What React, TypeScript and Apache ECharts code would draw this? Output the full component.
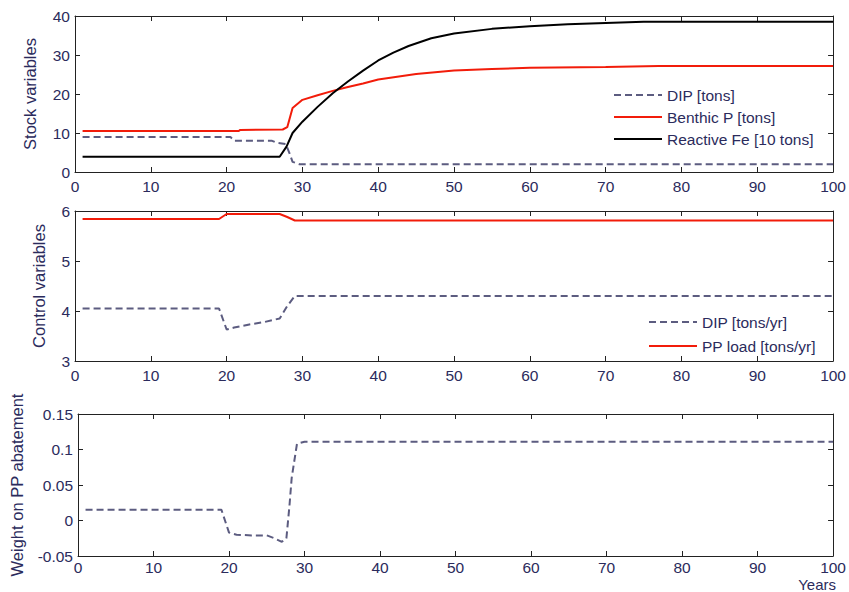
import React, { useEffect, useRef } from "react";
import * as echarts from "echarts";

// ---- Panel 1: stock variables ----
const dipStockYears = [1, 20.5, 21, 26, 26.6, 27.8, 28.3, 28.7, 29.6, 100];
const dipStock = [9.0, 9.0, 8.0, 8.0, 7.5, 7.2, 4.8, 2.6, 2.0, 2.0];
const benthicYears = [1, 21.6, 21.8, 27.4, 28.0, 28.7, 30, 32, 34, 36, 38, 40, 45, 50, 55, 60, 70, 77, 100];
const benthicP = [10.5, 10.5, 10.8, 10.9, 11.5, 16.4, 18.5, 19.7, 20.8, 21.8, 22.7, 23.7, 25.1, 26.0, 26.4, 26.7, 26.9, 27.2, 27.2];
const feYears = [1, 27, 27.9, 28.7, 30, 32, 34, 36, 38, 40, 42, 44, 47, 50, 55, 60, 65, 70, 75, 80, 100];
const reactiveFe = [3.9, 3.9, 6.5, 10.0, 12.9, 16.7, 20.2, 23.2, 26.0, 28.6, 30.6, 32.3, 34.3, 35.5, 36.7, 37.4, 37.9, 38.2, 38.5, 38.5, 38.5];

// ---- Panel 2: control variables ----
const ppYears = [1, 19, 20, 27, 28, 29, 100];
const ppLoad = [5.84, 5.84, 5.94, 5.94, 5.88, 5.81, 5.81];
const dipYrYears = [1, 19, 20, 21, 23, 25, 27, 28, 29, 100];
const dipYr = [4.05, 4.05, 3.63, 3.67, 3.73, 3.78, 3.85, 4.1, 4.3, 4.3];

// ---- Panel 3: weight on PP abatement ----
const wYears = [1, 19, 20, 21, 23, 25, 26, 27, 27.6, 28, 28.3, 29, 30, 100];
const weight = [0.015, 0.015, -0.017, -0.02, -0.021, -0.021, -0.025, -0.03, -0.025, 0.02, 0.06, 0.108, 0.111, 0.111];

const xTicks = { min: 0, max: 100, interval: 10 };
const panelY = [
  { min: 0, max: 40, interval: 10, name: "Stock variables" },
  { min: 3, max: 6, interval: 1, name: "Control variables" },
  { min: -0.05, max: 0.15, interval: 0.05, name: "Weight on PP abatement" },
];

const pair = (xs: number[], ys: number[]) => xs.map((x, i) => [x, ys[i]]);

const TEXT = "#2b2b5c";
const FONT = "'Liberation Sans', Arial, sans-serif";
const DIPCOL = "#5c5c80";
const RED = "#f21c0a";

export default function App() {
  const ref = useRef<HTMLDivElement>(null);
  useEffect(() => {
    if (!ref.current) return;
    const chart = echarts.init(ref.current, null, { renderer: "svg" });
    const grids = [
      { left: 75, right: 13, top: 16, height: 156 },
      { left: 75, right: 13, top: 211, height: 150 },
      { left: 75, right: 13, top: 414, height: 142 },
    ];
    const nameGaps = [37, 28, 53];
    const xMargins = [6, 6, 3];
    const xAxes: any[] = [];
    const yAxes: any[] = [];
    grids.forEach((_, i) => {
      xAxes.push({
        type: "value", gridIndex: i, ...xTicks, position: "bottom",
        axisLine: { onZero: false, lineStyle: { color: "#222", width: 1 } },
        axisTick: { inside: true, length: 5, lineStyle: { color: "#222" } },
        axisLabel: { color: TEXT, fontSize: 15.5, fontFamily: FONT, margin: xMargins[i] },
        splitLine: { show: false },
      });
      xAxes.push({
        type: "value", gridIndex: i, ...xTicks, position: "top",
        axisLine: { onZero: false, lineStyle: { color: "#222", width: 1 } },
        axisTick: { inside: true, length: 5, lineStyle: { color: "#222" } },
        axisLabel: { show: false }, splitLine: { show: false },
      });
      const p = panelY[i];
      yAxes.push({
        type: "value", gridIndex: i, min: p.min, max: p.max, interval: p.interval, position: "left",
        name: p.name, nameLocation: "middle", nameGap: nameGaps[i],
        nameTextStyle: { color: TEXT, fontSize: 16.5, fontFamily: FONT },
        axisLine: { show: true, onZero: false, lineStyle: { color: "#222", width: 1 } },
        axisTick: { show: true, inside: true, length: 5, lineStyle: { color: "#222" } },
        axisLabel: {
          color: TEXT, fontSize: 15.5, fontFamily: FONT, margin: 5,
          formatter: (v: number) => String(Math.round(v * 100) / 100),
        },
        splitLine: { show: false },
      });
      yAxes.push({
        type: "value", gridIndex: i, min: p.min, max: p.max, interval: p.interval, position: "right",
        axisLine: { show: true, onZero: false, lineStyle: { color: "#222", width: 1 } },
        axisTick: { show: true, inside: true, length: 5, lineStyle: { color: "#222" } },
        axisLabel: { show: false }, splitLine: { show: false },
      });
    });
    const dash = [7, 4];
    const mk = (name: string, data: number[][], gi: number, color: string, dashed: boolean, z = 2) => ({
      name, type: "line", xAxisIndex: gi * 2, yAxisIndex: gi * 2, data,
      showSymbol: false, symbol: "none", z,
      lineStyle: { color, width: 2, type: dashed ? dash : "solid" },
      itemStyle: { color },
    });
    const legendCommon = {
      orient: "vertical", itemWidth: 48, itemHeight: 14, padding: 0,
      itemStyle: { opacity: 0 },
      textStyle: { color: TEXT, fontSize: 15.5, fontFamily: FONT },
    };
    chart.setOption({
      animation: false,
      backgroundColor: "#fff",
      grid: grids,
      xAxis: xAxes,
      yAxis: yAxes,
      legend: [
        { ...legendCommon, left: 613, top: 87, itemGap: 6, data: ["DIP [tons]", "Benthic P [tons]", "Reactive Fe [10 tons]"] },
        { ...legendCommon, left: 648, top: 314, itemGap: 8, data: ["DIP [tons/yr]", "PP load [tons/yr]"] },
      ],
      series: [
        mk("DIP [tons]", pair(dipStockYears, dipStock), 0, DIPCOL, true),
        mk("Benthic P [tons]", pair(benthicYears, benthicP), 0, RED, false),
        mk("Reactive Fe [10 tons]", pair(feYears, reactiveFe), 0, "#000", false, 3),
        mk("DIP [tons/yr]", pair(dipYrYears, dipYr), 1, DIPCOL, true),
        mk("PP load [tons/yr]", pair(ppYears, ppLoad), 1, RED, false),
        mk("Weight", pair(wYears, weight), 2, DIPCOL, true),
      ],
      graphic: [
        { type: "text", right: 13, top: 577, style: { text: "Years", fill: TEXT, fontSize: 15, fontFamily: FONT } },
      ],
    });
    return () => chart.dispose();
  }, []);
  return <div ref={ref} style={{ width: 849, height: 592, position: "absolute", left: 0, top: 0 }} />;
}
